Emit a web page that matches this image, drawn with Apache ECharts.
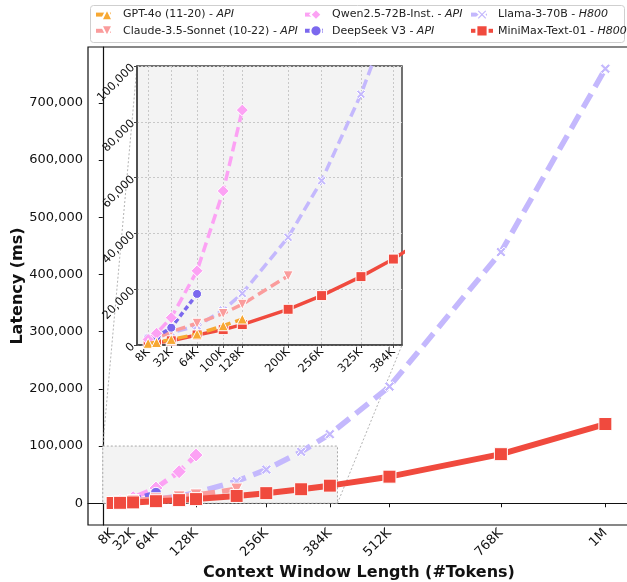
<!DOCTYPE html>
<html><head><meta charset="utf-8">
<script src="https://cdn.jsdelivr.net/npm/echarts@6/dist/echarts.min.js"></script>
<style>html,body{margin:0;padding:0;background:#fff}#c{width:627px;height:582px}</style>
</head><body><div id="c"></div>
<script>
// ---- data (x in thousands of tokens, y in ms) ----
const mainTicksK = [8, 32, 64, 128, 256, 384, 512, 768, 1024];
const mainTickLabels = ['8K', '32K', '64K', '128K', '256K', '384K', '512K', '768K', '1M'];
const insetTicksK = [8, 32, 64, 100, 128, 200, 256, 325, 384];
const insetTickLabels = ['8K', '32K', '64K', '100K', '128K', '200K', '256K', '325K', '384K'];
const mainYTicks = [0, 100000, 200000, 300000, 400000, 500000, 600000, 700000];
const insetYTicks = [0, 20000, 40000, 60000, 80000, 100000];
const insetRangeK = [0, 400];
const insetRangeY = [0, 100000];

const modelNames = ['GPT-4o (11-20)', 'Claude-3.5-Sonnet (10-22)', 'Qwen2.5-72B-Inst.', 'DeepSeek V3', 'Llama-3-70B', 'MiniMax-Text-01'];
const platforms = ['API', 'API', 'API', 'API', 'H800', 'H800'];

const gptX = [8, 16, 32, 64, 100, 128];
const gptY = [600, 900, 2000, 3900, 6900, 9300];
const claudeX = [8, 16, 32, 64, 100, 128, 200];
const claudeY = [1200, 2400, 4800, 7800, 11300, 14600, 24800];
const qwenX = [8, 16, 32, 64, 100, 128];
const qwenY = [2000, 4200, 9800, 26600, 55200, 84200];
const deepseekX = [8, 16, 32, 64];
const deepseekY = [2400, 3000, 6200, 18300];
const llamaX = [8, 16, 32, 64, 100, 128, 200, 256, 325, 384, 512, 768, 1024];
const llamaY = [2600, 3300, 4500, 6800, 12500, 18500, 38600, 58900, 89900, 120700, 204000, 439000, 759500];
const minimaxX = [8, 16, 32, 64, 100, 128, 200, 256, 325, 384, 512, 768, 1024];
const minimaxY = [500, 800, 1500, 3600, 5500, 7300, 12800, 17700, 24500, 30800, 46500, 85800, 138500];

// ---- power scale used by the original x axis ----
const P = 0.81;
const pw = k => Math.sign(k) * Math.pow(Math.abs(k), P);

const colors = ['#F7A833', '#FA9C9C', '#FCA2F4', '#7B68EE', '#C4B8FD', '#F04A3E'];
const xPath = 'path://M2,0 L5,3 L8,0 L10,2 L7,5 L10,8 L8,10 L5,7 L2,10 L0,8 L3,5 L0,2 Z';
const symbols = ['triangle', 'triangle', 'diamond', 'circle', xPath, 'rect'];
const rotates = [0, 180, 0, 0, 0, 0];
const xsAll = [gptX, claudeX, qwenX, deepseekX, llamaX, minimaxX];
const ysAll = [gptY, claudeY, qwenY, deepseekY, llamaY, minimaxY];

const mainSizes = [12, 12, 14, 11, 10, 13];
const mainWidths = [5, 5, 5, 5, 5.5, 6];
const mainDash = [[15, 7], [15, 7], [15, 7], [7, 4], [16, 8], 'solid'];
const mainZ = [4, 4, 3, 3, 2, 6];
const insetSizes = [10, 10, 12, 9, 9, 10];
const insetWidths = [3.5, 3.5, 3.5, 3.5, 3.5, 3.5];
const insetDash = [[10, 5], [10, 5], [10, 5], [5, 3], [10, 5], 'solid'];
const insetZ = [16, 14, 15, 14, 12, 13];

function mkSeries(i, grid, sizes, widths, dash, zs) {
  return {
    name: modelNames[i], type: 'line', xAxisIndex: grid, yAxisIndex: grid,
    data: xsAll[i].map((x, j) => [pw(x), ysAll[i][j]]),
    symbol: symbols[i], symbolRotate: rotates[i], symbolSize: sizes[i],
    showSymbol: true, z: zs[i], clip: true,
    lineStyle: { color: colors[i], width: widths[i], type: dash[i] },
    itemStyle: { color: colors[i], borderColor: '#fff', borderWidth: 1 },
    emphasis: { disabled: true }
  };
}

const xMinMain = pw(8) - 0.05 * (pw(1024) - pw(8));
const xMaxMain = pw(1024) + 0.05 * (pw(1024) - pw(8));
const yMinMain = -0.05 * 759500;
const yMaxMain = 759500 * 1.05;

const fmtNum = v => Math.round(v).toLocaleString('en-US');
const labelFor = (vals, labels) => v => {
  for (let i = 0; i < vals.length; i++) if (Math.abs(pw(vals[i]) - v) < 1e-6) return labels[i];
  return '';
};

const font = 'DejaVu Sans';
const series = [];
series.push({
  type: 'custom', xAxisIndex: 0, yAxisIndex: 0, z: 1, silent: true,
  data: [[pw(insetRangeK[0]), insetRangeY[0], pw(insetRangeK[1]), insetRangeY[1]]],
  encode: { x: [0, 2], y: [1, 3] },
  renderItem: (params, api) => {
    const a = api.coord([api.value(0), api.value(1)]);
    const b = api.coord([api.value(2), api.value(3)]);
    return { type: 'rect', shape: { x: a[0], y: b[1], width: b[0] - a[0], height: a[1] - b[1] },
      style: { fill: '#f3f3f3', stroke: '#a8a8a8', lineWidth: 1, lineDash: [2, 2] } };
  }
});
for (let i = 0; i < 6; i++) series.push(mkSeries(i, 0, mainSizes, mainWidths, mainDash, mainZ));
for (let i = 0; i < 6; i++) series.push(mkSeries(i, 1, insetSizes, insetWidths, insetDash, insetZ));

const legendCols = [[0, 1], [2, 3], [4, 5]];
const legendLeft = [94, 303, 469];
const legends = legendCols.map((col, c) => ({
  orient: 'vertical', left: legendLeft[c], top: 8, padding: 0, itemGap: 3, itemWidth: 22, itemHeight: 14,
  data: col.map(i => modelNames[i]), selectedMode: false,
  lineStyle: { width: 4 },
  formatter: name => { const i = modelNames.indexOf(name); return '{n|' + name + ' - }{i|' + platforms[i] + '}'; },
  textStyle: { fontFamily: font, fontSize: 11, color: '#222',
    rich: { n: { fontFamily: font, fontSize: 11, color: '#222' }, i: { fontFamily: font, fontSize: 11, color: '#222', fontStyle: 'italic' } } }
}));

const chart = echarts.init(document.getElementById('c'), null, { renderer: 'canvas' });
chart.setOption({
  animation: false,
  backgroundColor: '#fff',
  legend: legends,
  grid: [
    { left: 88, top: 47, width: 542, height: 478, show: true, borderColor: '#111', borderWidth: 1.2, backgroundColor: 'transparent', z: 0, outerBoundsMode: 'none', containLabel: false },
    { left: 137, top: 66, width: 265, height: 279, show: true, borderColor: '#444', borderWidth: 1.5, backgroundColor: '#f3f3f3', z: 5, outerBoundsMode: 'none', containLabel: false }
  ],
  xAxis: [
    { type: 'value', gridIndex: 0, min: xMinMain, max: xMaxMain,
      name: 'Context Window Length (#Tokens)', nameLocation: 'middle', nameGap: 40, nameMoveOverlap: false,
      nameTextStyle: { fontFamily: font, fontSize: 16, fontWeight: 'bold', color: '#111' },
      axisLine: { show: true, lineStyle: { color: '#111', width: 1.2 } },
      axisTick: { show: true, length: 4, customValues: mainTicksK.map(pw), lineStyle: { color: '#111' } },
      axisLabel: { customValues: mainTicksK.map(pw), rotate: 45, margin: 6, fontFamily: font, fontSize: 13, color: '#111',
        formatter: labelFor(mainTicksK, mainTickLabels) },
      splitLine: { show: false } },
    { type: 'value', gridIndex: 1, min: pw(insetRangeK[0]), max: pw(insetRangeK[1]), z: 6,
      axisLine: { show: true, lineStyle: { color: '#444', width: 1.5 } },
      axisTick: { show: true, length: 3, customValues: insetTicksK.map(pw), lineStyle: { color: '#444' } },
      axisLabel: { customValues: insetTicksK.map(pw), rotate: 45, margin: 5, fontFamily: font, fontSize: 11.5, color: '#111',
        formatter: labelFor(insetTicksK, insetTickLabels) },
      splitLine: { show: true, lineStyle: { color: '#c8c8c8', width: 1, type: [2, 2] } } }
  ],
  yAxis: [
    { type: 'value', gridIndex: 0, min: yMinMain, max: yMaxMain,
      name: 'Latency (ms)', nameLocation: 'middle', nameGap: 62, nameMoveOverlap: false,
      nameTextStyle: { fontFamily: font, fontSize: 16, fontWeight: 'bold', color: '#111' },
      axisLine: { show: true, lineStyle: { color: '#111', width: 1.2 } },
      axisTick: { show: true, length: 4, customValues: mainYTicks, lineStyle: { color: '#111' } },
      axisLabel: { customValues: mainYTicks, margin: 5, fontFamily: font, fontSize: 13, color: '#111', formatter: fmtNum },
      splitLine: { show: false } },
    { type: 'value', gridIndex: 1, min: insetRangeY[0], max: insetRangeY[1], z: 6,
      axisLine: { show: true, lineStyle: { color: '#444', width: 1.5 } },
      axisTick: { show: true, length: 3, customValues: insetYTicks, lineStyle: { color: '#444' } },
      axisLabel: { customValues: insetYTicks, rotate: 45, margin: 4, fontFamily: font, fontSize: 11.5, color: '#111', formatter: fmtNum },
      splitLine: { show: true, lineStyle: { color: '#c8c8c8', width: 1, type: [2, 2] } } }
  ],
  series: series
});

// legend frame and inset connector lines (positions from the library's scales)
const ul0 = chart.convertToPixel({ gridIndex: 0 }, [pw(insetRangeK[0]), insetRangeY[1]]);
const ul1 = chart.convertToPixel({ gridIndex: 1 }, [pw(insetRangeK[0]), insetRangeY[1]]);
const lr0 = chart.convertToPixel({ gridIndex: 0 }, [pw(insetRangeK[1]), insetRangeY[0]]);
const lr1 = chart.convertToPixel({ gridIndex: 1 }, [pw(insetRangeK[1]), insetRangeY[0]]);
chart.setOption({
  graphic: [
    { type: 'rect', shape: { x: 90.5, y: 5.5, width: 534, height: 37, r: 3 }, style: { fill: '#fff', stroke: '#cfcfcf', lineWidth: 1 }, z: -1, silent: true },
    { type: 'line', shape: { x1: ul0[0], y1: ul0[1], x2: ul1[0], y2: ul1[1] }, style: { stroke: '#a0a0a0', lineWidth: 0.8, lineDash: [2, 2] }, z: 1, silent: true },
    { type: 'line', shape: { x1: lr0[0], y1: lr0[1], x2: lr1[0], y2: lr1[1] }, style: { stroke: '#a0a0a0', lineWidth: 0.8, lineDash: [2, 2] }, z: 1, silent: true }
  ]
});
</script>
</body></html>
